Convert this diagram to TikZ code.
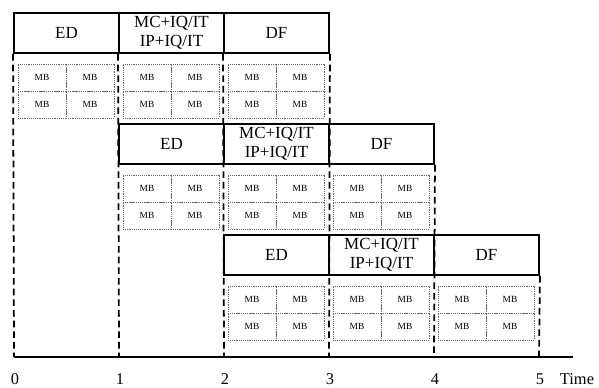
\documentclass[tikz,border=0pt]{standalone}
\usepackage{fontspec}
\setmainfont{Liberation Serif}
\begin{document}
\begin{tikzpicture}[x=0.3mm,y=-0.3mm,
  stage/.style={draw,line width=1.6pt,fill=white,minimum width=31.5mm,minimum height=12mm,inner sep=0pt,align=center,font=\fontsize{14.5}{16}\selectfont},
  mbcell/.style={draw=gray!80!black,line width=0.5pt,dash pattern=on 0.8pt off 0.8pt,minimum width=14.4mm,minimum height=8.1mm,inner sep=0pt,font=\fontsize{8}{9}\selectfont},
  tline/.style={line width=1.5pt,dash pattern=on 2mm off 1.2mm},
  tlabel/.style={font=\fontsize{14}{16}\selectfont}]
 \useasboundingbox (0,0) rectangle (599,387);
 % time axis
 \foreach \i in {0,...,5}
   \coordinate (t\i) at (14+105*\i,357);
 \coordinate (tend) at (573,357);
 \draw[line width=1.6pt] (t0) -- (tend);
 % pipeline stages
 \foreach \r in {0,1,2} {
   \foreach \c/\txt in {0/ED,1/{MC+IQ/IT\\IP+IQ/IT},2/DF} {
     \node[stage] (h\r\c) at ({66.5+105*(\r+\c)},{33+111*\r}) {\txt};
     \foreach \k/\dx/\dy in {1/28/77.5,2/76/77.5,3/28/104.5,4/76/104.5}
       \node[mbcell] (m\r\c\k) at ({14+105*(\r+\c)+\dx},{111*\r+\dy}) {MB};
   }
 }
 % time slots
 \draw[tline] (h00.south west) -- (t0);
 \draw[tline] (h01.south west) -- (t1);
 \draw[tline] (h02.south west) -- (t2);
 \draw[tline] (h02.south east) -- (t3);
 \draw[tline] (h12.south east) -- (t4);
 \draw[tline] (h22.south east) -- (t5);
 % labels
 \foreach \i in {0,...,5}
   \node[tlabel] (l\i) at (15+105*\i,379) {\i};
 \node[tlabel] (time) at (577,379) {Time};
\end{tikzpicture}
\end{document}
